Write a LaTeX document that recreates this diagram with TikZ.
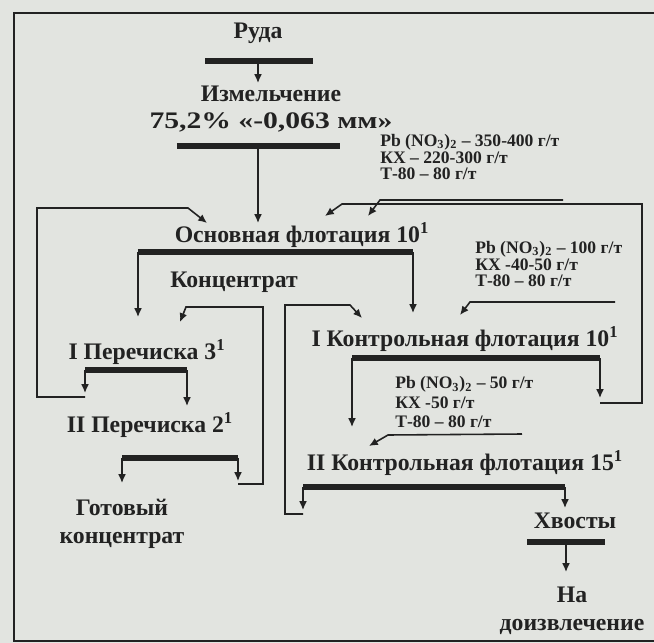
\documentclass[tikz,border=0pt]{standalone}
\usepackage{fontspec}
\setmainfont{Liberation Serif}
\newfontfamily\widefont[FakeStretch=1.25]{Liberation Serif}
\usetikzlibrary{positioning,arrows.meta}
\definecolor{paper}{RGB}{226,228,224}
\definecolor{ink}{RGB}{34,34,34}

\begin{document}
\begin{tikzpicture}[x=0.02cm,y=-0.02cm,
	stage/.style={font=\fontsize{13.5}{15}\selectfont\bfseries, text=ink, inner sep=0pt, align=center},
	reag/.style={font=\fontsize{10}{9.6}\selectfont\bfseries, text=ink, inner sep=0pt, align=left, anchor=west},
	bar/.style={draw=ink, line width=3pt},
	pipe/.style={draw=ink, line width=0.9pt},
	feed/.style={pipe, -{Latex[length=5pt,width=4.5pt]}}]
				\fill[paper] (0,0) rectangle (654,643);
				\useasboundingbox (0,0) rectangle (654,643);
				\draw[pipe] (660,13) -- (14,13) -- (14,641) -- (660,641);
				% stages
				\node[stage] (ruda) at (258,33) {Руда};
				\node[stage] (izm) at (271,109) {Измельчение\\{\widefont 75,2\% «-0,063 мм»}};
				\node[stage] (osn) at (302,235) {Основная флотация 10\textsuperscript{1}};
				\node[stage] (konc) at (234,282) {Концентрат};
				\node[stage] (per1) at (147,352) {I Перечиска 3\textsuperscript{1}};
				\node[stage] (kf1) at (465,339) {I Контрольная флотация 10\textsuperscript{1}};
				\node[stage] (per2) at (150,425) {II Перечиска 2\textsuperscript{1}};
				\node[stage] (kf2) at (465,463) {II Контрольная флотация 15\textsuperscript{1}};
				\node[stage] (gotov) at (122,524) {Готовый\\[1pt]концентрат};
				\node[stage] (hvost) at (575,521) {Хвосты};
				\node[stage] (dozv) at (572,611) {На\\[1pt]доизвлечение};
				% reagents
				\node[reag] (r1) at (380,157) {Pb (NO\textsubscript{3})\textsubscript{2} – 350-400 г/т\\КХ – 220-300 г/т\\Т-80 – 80 г/т};
				\node[reag] (r2) at (475,264) {Pb (NO\textsubscript{3})\textsubscript{2} – 100 г/т\\КХ -40-50 г/т\\Т-80 – 80 г/т};
				\node[reag, font=\fontsize{10}{11}\selectfont\bfseries] (r3) at (395,402) {Pb (NO\textsubscript{3})\textsubscript{2} – 50 г/т\\КХ -50 г/т\\Т-80 – 80 г/т};
				% bar ends
				\coordinate (b1l) at (205,61);  \coordinate (b1r) at (313,61);
				\coordinate (b2l) at (177,146); \coordinate (b2r) at (340,146);
				\coordinate (b3l) at (138,252); \coordinate (b3r) at (413,252);
				\coordinate (b4l) at (85,370);  \coordinate (b4r) at (187,370);
				\coordinate (b5l) at (122,458); \coordinate (b5r) at (238,458);
				\coordinate (b6l) at (352,358); \coordinate (b6r) at (600,358);
				\coordinate (b7l) at (303,487); \coordinate (b7r) at (565,487);
				\coordinate (b8l) at (527,542); \coordinate (b8r) at (605,542);
				% arrow ends
				\coordinate (izmin) at (258,83);
				\coordinate (osnin) at (258,223);
				\coordinate (osnL) at (207,223);
				\coordinate (osnR1) at (325,216);
				\coordinate (osnR2) at (368,216);
				\coordinate (p1in) at (138,317);
				\coordinate (p1inR) at (180,322);
				\coordinate (p1out) at (85,393);
				\coordinate (p1ret) at (85,397);
				\coordinate (p2in) at (187,406);
				\coordinate (p2out) at (238,481);
				\coordinate (p2ret) at (238,484);
				\coordinate (gin) at (122,483);
				\coordinate (k1in) at (413,313);
				\coordinate (k1inL) at (362,318);
				\coordinate (k1inR) at (460,315);
				\coordinate (k1out) at (600,398);
				\coordinate (k1ret) at (600,403);
				\coordinate (k2in) at (352,427);
				\coordinate (k2inR) at (369,446);
				\coordinate (k2out) at (303,510);
				\coordinate (k2ret) at (303,514);
				\coordinate (hin) at (565,508);
				\coordinate (din) at (566,572);
				\coordinate (r1end) at (563,200);
				\coordinate (r2end) at (615,302);
				\coordinate (r3end) at (522,434);
				% bars
				\draw[bar] (b1l) -- (b1r);
				\draw[bar] (b2l) -- (b2r);
				\draw[bar] (b3l) -- (b3r);
				\draw[bar] (b4l) -- (b4r);
				\draw[bar] (b5l) -- (b5r);
				\draw[bar] (b6l) -- (b6r);
				\draw[bar] (b7l) -- (b7r);
				\draw[bar] (b8l) -- (b8r);
				% flows
				\draw[feed] (izmin |- b1l) -- (izmin);
				\draw[feed] (osnin |- b2l) -- (osnin);
				\draw[feed] (b3l) -- (p1in);
				\draw[feed] (b3r) -- (k1in);
				\draw[feed] (b4l) -- (p1out);
				\draw[feed] (b4r) -- (p2in);
				\draw[feed] (b5l) -- (gin);
				\draw[feed] (b5r) -- (p2out);
				\draw[feed] (b6l) -- (k2in);
				\draw[feed] (b6r) -- (k1out);
				\draw[feed] (b7l) -- (k2out);
				\draw[feed] (b7r) -- (hin);
				\draw[feed] (din |- b8l) -- (din);
				% returns
				\draw[feed] (p1ret) -- (37,397) -- (37,208) -- (188,208) -- (osnL);
				\draw[feed] (p2ret) -- (263,484) -- (263,307) -- (186,307) -- (p1inR);
				\draw[feed] (k2ret) -- (285,514) -- (285,305) -- (350,305) -- (k1inL);
				\draw[feed] (k1ret) -- (642,403) -- (642,204) -- (342,204) -- (osnR1);
				% reagent feeds
				\draw[feed] (r1end) -- (380,200) -- (osnR2);
				\draw[feed] (r2end) -- (470,302) -- (k1inR);
				\draw[feed] (r3end) -- (388,435) -- (k2inR);
\end{tikzpicture}
\end{document}
